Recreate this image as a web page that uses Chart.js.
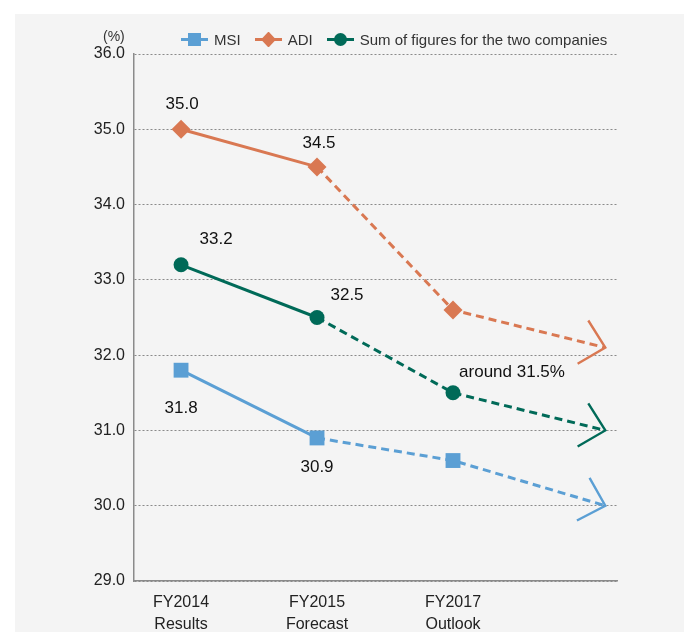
<!DOCTYPE html>
<html>
<head>
<meta charset="utf-8">
<script src="https://cdn.jsdelivr.net/npm/chart.js@4/dist/chart.umd.min.js"></script>
<style>
  body { margin: 0; width: 684px; height: 632px; position: relative; background: #fff; overflow: hidden; font-family: "Liberation Sans", Arial, sans-serif; }
  #panel { position: absolute; left: 15px; top: 14px; right: 0; bottom: 0; background: #f4f4f4; }
  #chart { position: absolute; left: 0; top: 0; }
  #legend { position: absolute; top: 31px; left: 181px; display: flex; align-items: center; font-size: 15px; color: #333; white-space: nowrap; }
  #legend .item { display: flex; align-items: center; margin-right: 14px; }
  #legend svg { margin-right: 6px; }
  #unit { position: absolute; left: 103px; top: 28px; font-size: 14px; color: #333; }
</style>
</head>
<body>
<div id="panel"></div>
<canvas id="chart" width="684" height="632"></canvas>
<div id="unit">(%)</div>
<div id="legend"></div>
<script>
document.addEventListener('DOMContentLoaded', function () {
    // data
    const categories = [['FY2014', 'Results'], ['FY2015', 'Forecast'], ['FY2017', 'Outlook']];
    const xValues = [0, 1, 2, 3.12]; // last point is where the trend arrow ends
    const msiValues = [31.8, 30.9, 30.6, 30.0];
    const adiValues = [35.0, 34.5, 32.6, 32.1];
    const sumValues = [33.2, 32.5, 31.5, 31.0];
    const msiLabels = ['31.8', '30.9'];
    const adiLabels = ['35.0', '34.5'];
    const sumLabels = ['33.2', '32.5', 'around 31.5%'];
    const yTicks = [29, 30, 31, 32, 33, 34, 35, 36];

    const colors = { msi: '#5b9fd4', adi: '#d97852', sum: '#006a58' };

    function points(values) {
        return values.map((v, i) => ({ x: xValues[i], y: v }));
    }

    // solid for actual results, dashed for the forecast part
    const dashed = ctx => ctx.p0DataIndex >= 1 ? [8, 5] : undefined;

    function series(label, values, color, style, radius) {
        return {
            label: label,
            data: points(values),
            borderColor: color,
            backgroundColor: color,
            borderWidth: 3,
            pointStyle: style,
            pointRadius: values.map((v, i) => i < categories.length ? radius : 0),
            pointHoverRadius: radius,
            pointBorderWidth: 0,
            segment: { borderDash: dashed }
        };
    }

    // open arrow head at the end of each line
    const arrowPlugin = {
        id: 'arrows',
        afterDatasetsDraw(chart) {
            const ctx = chart.ctx;
            chart.data.datasets.forEach((ds, di) => {
                const pts = chart.getDatasetMeta(di).data;
                const a = pts[pts.length - 2], b = pts[pts.length - 1];
                const ang = Math.atan2(b.y - a.y, b.x - a.x);
                const len = 32, spread = 44 * Math.PI / 180;
                ctx.save();
                ctx.strokeStyle = ds.borderColor;
                ctx.lineWidth = 2.4;
                ctx.beginPath();
                ctx.moveTo(b.x - len * Math.cos(ang - spread), b.y - len * Math.sin(ang - spread));
                ctx.lineTo(b.x, b.y);
                ctx.lineTo(b.x - len * Math.cos(ang + spread), b.y - len * Math.sin(ang + spread));
                ctx.stroke();
                ctx.restore();
            });
        }
    };

    // value labels next to the points
    const labelTexts = [msiLabels, adiLabels, sumLabels];
    const labelOffsets = [
        [[0, 38], [0, 29]],
        [[1, -25], [2, -24]],
        [[35, -25], [30, -22], [59, -20]]
    ];
    const labelPlugin = {
        id: 'valueLabels',
        afterDatasetsDraw(chart) {
            const ctx = chart.ctx;
            ctx.save();
            ctx.font = '17px "Liberation Sans", Arial, sans-serif';
            ctx.fillStyle = '#111';
            ctx.textAlign = 'center';
            ctx.textBaseline = 'middle';
            labelTexts.forEach((texts, di) => {
                const pts = chart.getDatasetMeta(di).data;
                texts.forEach((t, i) => {
                    const off = labelOffsets[di][i];
                    ctx.fillText(t, pts[i].x + off[0], pts[i].y + off[1]);
                });
            });
            ctx.restore();
        }
    };

    new Chart(document.getElementById('chart'), {
        type: 'line',
        data: {
            datasets: [
                series('MSI', msiValues, colors.msi, 'rect', 10.5),
                series('ADI', adiValues, colors.adi, 'rectRot', 9.5),
                series('Sum of figures for the two companies', sumValues, colors.sum, 'circle', 7.5)
            ]
        },
        options: {
            responsive: false,
            animation: false,
            devicePixelRatio: 1,
            layout: { padding: { left: 0, right: 67, top: 54, bottom: 0 } },
            plugins: { legend: { display: false }, tooltip: { enabled: false } },
            scales: {
                x: {
                    type: 'linear',
                    min: -0.346,
                    max: 3.206,
                    afterBuildTicks: s => { s.ticks = categories.map((c, i) => ({ value: i })); },
                    afterFit: s => { s.height = 51; },
                    ticks: {
                        callback: v => categories[v],
                        font: { family: '"Liberation Sans", Arial, sans-serif', size: 16, lineHeight: 1.4 },
                        color: '#222',
                        padding: 2,
                        maxRotation: 0
                    },
                    grid: { display: false },
                    border: { color: '#8a8a8a', width: 1.5 }
                },
                y: {
                    min: 29,
                    max: 36,
                    afterBuildTicks: s => { s.ticks = yTicks.map(v => ({ value: v })); },
                    afterFit: s => { s.width = 134; },
                    ticks: {
                        callback: v => v.toFixed(1),
                        font: { family: '"Liberation Sans", Arial, sans-serif', size: 16 },
                        color: '#222',
                        padding: 9
                    },
                    grid: { color: '#8a8a8a', lineWidth: 1, drawTicks: false },
                    border: { color: '#8a8a8a', width: 1.5, dash: [2, 2] }
                }
            }
        },
        plugins: [arrowPlugin, labelPlugin]
    });

    // legend with line + marker swatches
    const legend = document.getElementById('legend');
    const swatches = [
        ['MSI', colors.msi, '<rect x="7" y="1" width="13" height="13"/>'],
        ['ADI', colors.adi, '<polygon points="13.5,-0.5 21,7.5 13.5,15.5 6,7.5"/>'],
        ['Sum of figures for the two companies', colors.sum, '<circle cx="13.5" cy="7.5" r="6.5"/>']
    ];
    swatches.forEach(s => {
        const item = document.createElement('div');
        item.className = 'item';
        item.innerHTML = '<svg width="27" height="15" viewBox="0 0 27 15" fill="' + s[1] + '">' +
            '<rect x="0" y="6" width="27" height="3"/>' + s[2] + '</svg><span>' + s[0] + '</span>';
        legend.appendChild(item);
    });
});
</script>
</body>
</html>
